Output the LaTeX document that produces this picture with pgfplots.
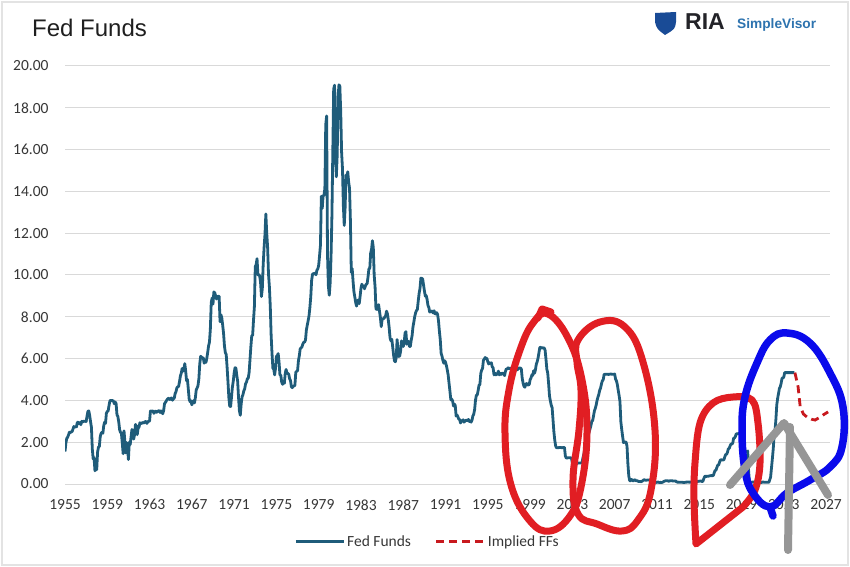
\documentclass[border=0pt]{standalone}
\usepackage{pgfplots}
\pgfplotsset{compat=1.18}
\usepackage{pgfplotstable}
\usepackage{fontspec}
\setmainfont{Carlito}
\newfontfamily\arial{Liberation Sans}
\definecolor{ffblue}{RGB}{31,92,122}
\definecolor{ffred}{RGB}{200,25,30}
\definecolor{mkred}{RGB}{225,30,35}
\definecolor{mkblue}{RGB}{10,10,235}
\definecolor{mkgray}{RGB}{150,150,150}
\definecolor{gridgray}{RGB}{217,217,217}
\definecolor{ticktext}{RGB}{55,55,55}
\definecolor{logoblue}{RGB}{45,115,175}
\definecolor{logodark}{RGB}{35,35,40}
\definecolor{shield}{RGB}{25,75,150}

% monthly effective fed funds rate, starting Jul 1955
\pgfplotstableread[row sep=\\]{ff\\
1.55\\1.96\\2.18\\2.24\\2.35\\2.48\\
2.45\\2.50\\2.50\\2.62\\2.75\\2.71\\2.75\\2.73\\2.95\\2.96\\2.88\\2.94\\
2.84\\3.00\\2.96\\3.00\\3.00\\3.00\\2.99\\3.24\\3.47\\3.50\\3.28\\2.98\\
2.72\\1.67\\1.20\\1.26\\0.63\\0.93\\0.68\\1.53\\1.76\\1.80\\2.27\\2.42\\
2.48\\2.43\\2.80\\2.96\\2.90\\3.39\\3.47\\3.50\\3.76\\3.98\\4.00\\3.99\\
3.99\\3.97\\3.84\\3.92\\3.85\\3.32\\3.23\\2.98\\2.60\\2.47\\2.44\\1.98\\
1.45\\2.54\\2.02\\1.49\\1.98\\1.73\\1.17\\2.00\\1.88\\2.26\\2.61\\2.33\\
2.15\\2.37\\2.85\\2.78\\2.36\\2.68\\2.71\\2.93\\2.90\\2.90\\2.94\\2.93\\
2.92\\3.00\\2.98\\2.90\\3.00\\2.99\\3.02\\3.49\\3.48\\3.50\\3.48\\3.38\\
3.48\\3.48\\3.43\\3.47\\3.50\\3.50\\3.42\\3.50\\3.45\\3.36\\3.52\\3.85\\
3.90\\3.98\\4.04\\4.09\\4.10\\4.04\\4.09\\4.12\\4.01\\4.08\\4.10\\4.32\\
4.42\\4.60\\4.65\\4.67\\4.90\\5.17\\5.30\\5.53\\5.40\\5.53\\5.76\\5.40\\
4.94\\5.00\\4.53\\4.05\\3.94\\3.98\\3.79\\3.90\\3.99\\3.88\\4.13\\4.51\\
4.60\\4.71\\5.05\\5.76\\6.11\\6.07\\6.02\\6.03\\5.78\\5.91\\5.82\\6.02\\
6.30\\6.61\\6.79\\7.41\\8.67\\8.90\\8.61\\9.19\\9.15\\9.00\\8.85\\8.97\\
8.98\\8.98\\7.76\\8.10\\7.95\\7.60\\7.21\\6.61\\6.29\\6.20\\5.60\\4.90\\
4.14\\3.72\\3.71\\4.15\\4.63\\4.91\\5.31\\5.56\\5.55\\5.20\\4.91\\4.14\\
3.50\\3.29\\3.83\\4.17\\4.27\\4.46\\4.55\\4.80\\4.87\\5.04\\5.06\\5.33\\
5.94\\6.58\\7.09\\7.12\\7.84\\8.49\\10.40\\10.50\\10.78\\10.01\\10.03\\9.95\\
9.65\\8.97\\9.35\\10.51\\11.31\\11.93\\12.92\\12.01\\11.34\\10.06\\9.45\\8.53\\
7.13\\6.24\\5.54\\5.49\\5.22\\5.55\\6.10\\6.14\\6.24\\5.82\\5.22\\5.20\\
4.87\\4.77\\4.84\\4.82\\5.29\\5.48\\5.31\\5.29\\5.25\\5.03\\4.95\\4.65\\
4.61\\4.68\\4.69\\4.73\\5.35\\5.39\\5.42\\5.90\\6.14\\6.47\\6.51\\6.56\\
6.70\\6.78\\6.79\\6.89\\7.36\\7.60\\7.81\\8.04\\8.45\\8.96\\9.76\\10.03\\
10.07\\10.06\\10.09\\10.01\\10.24\\10.29\\10.47\\10.94\\11.43\\13.77\\13.18\\13.78\\
13.82\\14.13\\17.19\\17.61\\10.98\\9.47\\9.03\\9.61\\10.87\\12.81\\15.85\\18.90\\
19.08\\15.93\\14.70\\15.72\\18.52\\19.10\\19.04\\17.82\\15.87\\15.08\\13.31\\12.37\\
13.22\\14.78\\14.68\\14.94\\14.45\\14.15\\12.59\\10.12\\10.31\\9.71\\9.20\\8.95\\
8.68\\8.51\\8.77\\8.80\\8.63\\8.98\\9.37\\9.56\\9.45\\9.48\\9.34\\9.47\\
9.56\\9.59\\9.91\\10.29\\10.32\\11.06\\11.23\\11.64\\11.30\\9.99\\9.43\\8.38\\
8.35\\8.50\\8.58\\8.27\\7.97\\7.53\\7.88\\7.90\\7.92\\7.99\\8.05\\8.27\\
8.14\\7.86\\7.48\\6.99\\6.85\\6.92\\6.56\\6.17\\5.89\\5.85\\6.04\\6.91\\
6.43\\6.10\\6.13\\6.37\\6.85\\6.73\\6.58\\6.73\\7.22\\7.29\\6.69\\6.77\\
6.83\\6.58\\6.58\\6.87\\7.09\\7.51\\7.75\\8.01\\8.19\\8.30\\8.35\\8.76\\
9.12\\9.36\\9.85\\9.84\\9.81\\9.53\\9.24\\8.99\\9.02\\8.84\\8.55\\8.45\\
8.23\\8.24\\8.28\\8.26\\8.18\\8.29\\8.15\\8.13\\8.20\\8.11\\7.81\\7.31\\
6.91\\6.25\\6.12\\5.91\\5.78\\5.90\\5.82\\5.66\\5.45\\5.21\\4.81\\4.43\\
4.03\\4.06\\3.98\\3.73\\3.82\\3.76\\3.25\\3.30\\3.22\\3.10\\3.09\\2.92\\
3.02\\3.03\\3.07\\2.96\\3.00\\3.04\\3.06\\3.03\\3.09\\2.99\\3.02\\2.96\\
3.05\\3.25\\3.34\\3.56\\4.01\\4.25\\4.26\\4.47\\4.73\\4.76\\5.29\\5.45\\
5.53\\5.92\\5.98\\6.05\\6.01\\6.00\\5.85\\5.74\\5.80\\5.76\\5.80\\5.60\\
5.56\\5.22\\5.31\\5.22\\5.24\\5.27\\5.40\\5.22\\5.30\\5.24\\5.31\\5.29\\
5.25\\5.19\\5.39\\5.51\\5.50\\5.56\\5.52\\5.54\\5.54\\5.50\\5.52\\5.50\\
5.56\\5.51\\5.49\\5.45\\5.49\\5.56\\5.54\\5.55\\5.51\\5.07\\4.83\\4.68\\
4.63\\4.76\\4.81\\4.74\\4.74\\4.76\\4.99\\5.07\\5.22\\5.20\\5.42\\5.30\\
5.45\\5.73\\5.85\\6.02\\6.27\\6.53\\6.54\\6.50\\6.52\\6.51\\6.51\\6.40\\
5.98\\5.49\\5.31\\4.80\\4.21\\3.97\\3.77\\3.65\\3.07\\2.49\\2.09\\1.82\\
1.73\\1.74\\1.73\\1.75\\1.75\\1.75\\1.73\\1.74\\1.75\\1.75\\1.34\\1.24\\
1.24\\1.26\\1.25\\1.26\\1.26\\1.22\\1.01\\1.03\\1.01\\1.01\\1.00\\0.98\\
1.00\\1.01\\1.00\\1.00\\1.00\\1.03\\1.26\\1.43\\1.61\\1.76\\1.93\\2.16\\
2.28\\2.50\\2.63\\2.79\\3.00\\3.04\\3.26\\3.50\\3.62\\3.78\\4.00\\4.16\\
4.29\\4.49\\4.59\\4.79\\4.94\\4.99\\5.24\\5.25\\5.25\\5.25\\5.25\\5.24\\
5.25\\5.26\\5.26\\5.25\\5.25\\5.25\\5.26\\5.02\\4.94\\4.76\\4.49\\4.24\\
3.94\\2.98\\2.61\\2.28\\1.98\\2.00\\2.01\\2.00\\1.81\\0.97\\0.39\\0.16\\
0.15\\0.22\\0.18\\0.15\\0.18\\0.21\\0.16\\0.16\\0.15\\0.12\\0.12\\0.12\\
0.11\\0.13\\0.16\\0.20\\0.20\\0.18\\0.18\\0.19\\0.19\\0.19\\0.19\\0.18\\
0.17\\0.16\\0.14\\0.10\\0.09\\0.09\\0.07\\0.10\\0.08\\0.07\\0.08\\0.07\\
0.08\\0.10\\0.13\\0.14\\0.16\\0.16\\0.16\\0.13\\0.14\\0.16\\0.16\\0.16\\
0.14\\0.15\\0.14\\0.15\\0.11\\0.09\\0.09\\0.08\\0.08\\0.09\\0.08\\0.09\\
0.07\\0.07\\0.08\\0.09\\0.09\\0.10\\0.09\\0.09\\0.09\\0.09\\0.09\\0.12\\
0.11\\0.11\\0.11\\0.12\\0.12\\0.13\\0.13\\0.14\\0.14\\0.12\\0.12\\0.24\\
0.34\\0.38\\0.36\\0.37\\0.37\\0.38\\0.39\\0.40\\0.40\\0.40\\0.41\\0.54\\
0.65\\0.66\\0.79\\0.90\\0.91\\1.04\\1.15\\1.16\\1.15\\1.15\\1.16\\1.30\\
1.41\\1.42\\1.51\\1.69\\1.70\\1.82\\1.91\\1.91\\1.95\\2.19\\2.20\\2.27\\
2.40\\2.40\\2.41\\2.42\\2.39\\2.38\\2.40\\2.13\\2.04\\1.83\\1.55\\1.55\\
1.55\\1.58\\0.65\\0.05\\0.05\\0.08\\0.09\\0.10\\0.09\\0.09\\0.09\\0.09\\
0.09\\0.08\\0.07\\0.07\\0.06\\0.08\\0.10\\0.09\\0.08\\0.08\\0.08\\0.08\\
0.08\\0.08\\0.20\\0.33\\0.77\\1.21\\1.68\\2.33\\2.56\\3.08\\3.78\\4.10\\
4.33\\4.57\\4.65\\4.83\\5.06\\5.08\\5.12\\5.33\\5.33\\5.33\\5.33\\5.33\\
5.33\\5.33\\5.33\\5.33\\5.33\\5.33\\5.33\\
}\fedfunds

\begin{document}
\begin{tikzpicture}
\fill[white] (0,0) rectangle (850bp,567bp);
\path[use as bounding box] (0,0) rectangle (850bp,567bp);
\draw[gray!22, line width=1.2bp] (2bp,2bp) rectangle (848bp,565bp);
\begin{axis}[
  at={(65bp,83bp)}, anchor=south west,
  width=765bp, height=418bp, scale only axis,
  xmin=1955.5, xmax=2027.87, ymin=0, ymax=20,
  axis line style={draw=none},
  major tick style={draw=none},
  ymajorgrids, grid style={gridgray, line width=1bp},
  xtick={1955.5,1959.5,1963.5,1967.5,1971.5,1975.5,1979.5,1983.5,1987.5,1991.5,1995.5,1999.5,2003.5,2007.5,2011.5,2015.5,2019.5,2023.5,2027.5},
  xticklabels={1955,1959,1963,1967,1971,1975,1979,1983,1987,1991,1995,1999,2003,2007,2011,2015,2019,2023,2027},
  ytick={0,2,...,20},
  /pgf/number format/fixed, /pgf/number format/zerofill,
  /pgf/number format/precision=2,
  /pgf/number format/assume math mode=true,
  ticklabel style={font=\fontsize{15.5bp}{18bp}\selectfont, text=ticktext},
  yticklabel style={xshift=-13bp},
  xticklabel style={yshift=-12bp},
  legend columns=2,
  legend style={at={(0.474,-0.138)}, anchor=center, draw=none, fill=none,
    font=\fontsize{15.5bp}{18bp}\selectfont, text=ticktext,
    /tikz/every even column/.append style={column sep=22bp}},
  legend image code/.code={\draw[#1] (0bp,0bp) -- (48bp,0bp);},
]
\addplot[ffblue, line width=2.8bp, line join=round] table[x expr=1955.5+\coordindex/12, y=ff]{\fedfunds};
\addlegendentry{Fed Funds}
\addplot[ffred, line width=2.8bp, dash pattern=on 8bp off 5bp] coordinates {
(2024.55,5.33) (2024.85,4.65) (2025.05,3.70) (2025.35,3.35) (2025.70,3.20) (2026.10,3.10) (2026.46,3.06) (2026.93,3.20) (2027.30,3.33) (2027.69,3.45)};
\addlegendentry{Implied FFs}
\end{axis}
\begin{scope}[shift={(0,567bp)}, x=1bp, y=-1bp]
  % title and logo
  \node[anchor=base west, inner sep=0, font=\arial\fontsize{24bp}{28bp}\selectfont, text=black!88] at (32,37) {Fed Funds};
  \fill[shield] (655,13) -- (676,12) -- (676,22) .. controls (675,29) .. (665,35) .. controls (657,29) .. (655,22) -- cycle;
  \node[anchor=base west, inner sep=0, font=\arial\bfseries\fontsize{23bp}{27bp}\selectfont, text=logodark] at (685,30) {RIA};
  \node[anchor=base west, inner sep=0, font=\arial\bfseries\fontsize{13.7bp}{16bp}\selectfont, text=logoblue] at (737,29) {SimpleVisor};
  % hand-drawn marks
  \begin{scope}[line cap=round, line join=round]
  \draw[mkred, line width=7bp] plot[smooth cycle, tension=0.7] coordinates {(548,314) (568,338) (582,380) (587,433) (581,487) (570,516) (550,531) (530,521) (511,485) (505,433) (509,390) (520,350) (533,323)};
  \draw[mkred, line width=7bp] (538,318) -- (542,309) -- (551,312);
  \draw[mkred, line width=7bp] plot[smooth cycle, tension=0.7] coordinates {(578,340) (600,322) (625,327) (643,362) (655,430) (651,490) (638,520) (622,531) (597,524) (578,514) (573,480) (579,430) (581,390) (577,362)};
  \draw[mkred, line width=7bp] plot[smooth, tension=0.6] coordinates {(743,507) (755,490) (760,463) (758,423) (752,400) (733,397) (713,403) (700,423) (695,463) (694,500) (696,544)} -- (743,507);
  \draw[mkblue, line width=7.5bp] plot[smooth cycle, tension=0.7] coordinates {(787,333) (810,343) (830,373) (843,407) (842,447) (830,467) (810,480) (787,493) (770,507) (753,493) (745,470) (742,430) (745,397) (757,363) (770,340)};
  \draw[mkblue, line width=7.5bp] (770,507) -- (773,516);
  \draw[mkgray, line width=8bp] (730,485) -- (784,423) -- (828,495);
  \draw[mkgray, line width=8bp] (790,427) -- (788,550);
  \end{scope}
\end{scope}
\end{tikzpicture}
\end{document}
